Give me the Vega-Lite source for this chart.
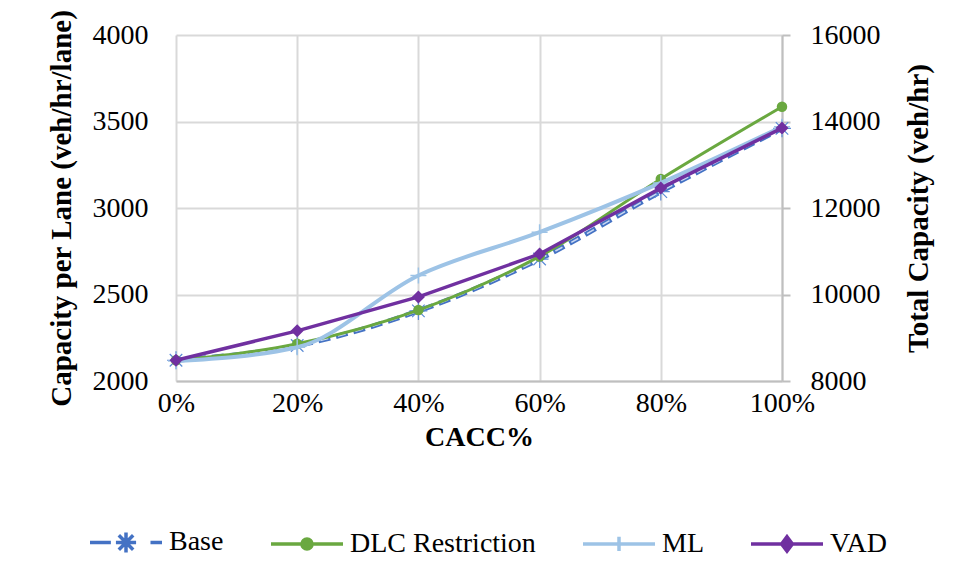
{
  "$schema": "https://vega.github.io/schema/vega-lite/v6.json",
  "autosize": {"type": "none"},
  "width": 606,
  "height": 346,
  "padding": {"left": 176, "top": 35, "right": 187, "bottom": 199},
  "background": "white",
  "config": {
    "view": {"stroke": null},
    "font": "Liberation Serif",
    "axis": {"labelFont": "Liberation Serif", "titleFont": "Liberation Serif", "labelColor": "#000000", "titleColor": "#000000"},
    "legend": {"labelFont": "Liberation Serif", "labelFontSize": 28, "labelColor": "#000000", "labelLimit": 500}
  },
  "data": {
    "values": [
      {"series": "Base", "pct": 0, "value": 2120},
      {"series": "Base", "pct": 20, "value": 2205},
      {"series": "Base", "pct": 40, "value": 2405},
      {"series": "Base", "pct": 60, "value": 2705},
      {"series": "Base", "pct": 80, "value": 3095},
      {"series": "Base", "pct": 100, "value": 3460},
      {"series": "DLC Restriction", "pct": 0, "value": 2120},
      {"series": "DLC Restriction", "pct": 20, "value": 2215},
      {"series": "DLC Restriction", "pct": 40, "value": 2410},
      {"series": "DLC Restriction", "pct": 60, "value": 2720},
      {"series": "DLC Restriction", "pct": 80, "value": 3168},
      {"series": "DLC Restriction", "pct": 100, "value": 3585},
      {"series": "ML", "pct": 0, "value": 2115},
      {"series": "ML", "pct": 20, "value": 2195},
      {"series": "ML", "pct": 40, "value": 2610},
      {"series": "ML", "pct": 60, "value": 2860},
      {"series": "ML", "pct": 80, "value": 3145},
      {"series": "ML", "pct": 100, "value": 3470},
      {"series": "VAD", "pct": 0, "value": 2120},
      {"series": "VAD", "pct": 20, "value": 2290},
      {"series": "VAD", "pct": 40, "value": 2486},
      {"series": "VAD", "pct": 60, "value": 2734},
      {"series": "VAD", "pct": 80, "value": 3115},
      {"series": "VAD", "pct": 100, "value": 3462}
    ]
  },
  "layer": [
    {
      "encoding": {
        "x": {
          "field": "pct", "type": "quantitative",
          "scale": {"domain": [0, 100], "nice": false, "zero": false},
          "axis": {
            "title": "CACC%", "values": [0, 20, 40, 60, 80, 100], "labelExpr": "datum.value + '%'",
            "labelFlush": false, "labelOverlap": false,
            "grid": true, "gridColor": "#d9d9d9", "gridWidth": 2,
            "domainColor": "#bfbfbf", "domainWidth": 2, "ticks": false,
            "labelFontSize": 28, "labelPadding": 8,
            "titleFontSize": 28, "titleFontWeight": "bold", "titlePadding": 6
          }
        },
        "y": {
          "field": "value", "type": "quantitative",
          "scale": {"domain": [2000, 4000], "nice": false, "zero": false},
          "axis": {
            "title": "Capacity per Lane (veh/hr/lane)", "values": [2000, 2500, 3000, 3500, 4000], "format": "d",
            "grid": true, "gridColor": "#d9d9d9", "gridWidth": 2,
            "domain": false, "ticks": false,
            "labelFontSize": 28, "labelPadding": 28,
            "titleFontSize": 29, "titleFontWeight": "bold", "titlePadding": 16
          }
        }
      },
      "layer": [
        {
          "transform": [{"filter": "datum.series == 'Base'"}],
          "mark": {"type": "line", "color": "#4472C4", "strokeWidth": 5, "strokeDash": [12, 6], "interpolate": "monotone"}
        },
        {
          "transform": [{"filter": "datum.series == 'Base'"}],
          "mark": {"type": "line", "color": "#C9D8F2", "strokeWidth": 1.6, "strokeDash": [8, 10], "strokeDashOffset": -2, "interpolate": "monotone"}
        },
        {
          "transform": [{"filter": "datum.series == 'Base'"}],
          "mark": {"type": "point", "shape": "M-1,0H1M0,-1V1M-0.7,-0.7L0.7,0.7M-0.7,0.7L0.7,-0.7", "size": 320, "filled": false, "stroke": "#5B8BD6", "strokeWidth": 1.2, "opacity": 1}
        },
        {
          "transform": [{"filter": "datum.series == 'DLC Restriction'"}],
          "mark": {"type": "line", "color": "#6AA840", "strokeWidth": 3, "interpolate": "monotone"}
        },
        {
          "transform": [{"filter": "datum.series == 'DLC Restriction'"}],
          "mark": {"type": "point", "shape": "circle", "size": 110, "filled": true, "color": "#6AA840", "opacity": 1}
        },
        {
          "transform": [{"filter": "datum.series == 'ML'"}],
          "mark": {"type": "line", "color": "#9DC3E6", "strokeWidth": 4, "interpolate": "monotone"}
        },
        {
          "transform": [{"filter": "datum.series == 'ML'"}],
          "mark": {"type": "point", "shape": "M-1,0H1M0,-1V1", "size": 256, "filled": false, "stroke": "#9DC3E6", "strokeWidth": 1.5, "opacity": 1}
        },
        {
          "transform": [{"filter": "datum.series == 'VAD'"}],
          "mark": {"type": "line", "color": "#7030A0", "strokeWidth": 3.5}
        },
        {
          "transform": [{"filter": "datum.series == 'VAD'"}],
          "mark": {"type": "point", "shape": "diamond", "size": 170, "filled": true, "color": "#7030A0", "opacity": 1}
        },
        {
          "mark": {"type": "point", "filled": true, "opacity": 0, "strokeWidth": 3},
          "encoding": {
            "stroke": {
              "field": "series", "type": "nominal",
              "scale": {"domain": ["Base", "DLC Restriction", "ML", "VAD"], "range": ["#4472C4", "#6AA840", "#9DC3E6", "#7030A0"]},
              "legend": {"title": null, "orient": "none", "legendX": -88, "legendY": 469, "direction": "horizontal", "columns": 4, "symbolSize": 5184, "symbolStrokeWidth": 3.5, "symbolOpacity": 1, "labelOffset": 5, "columnPadding": 40, "padding": 0, "labelLimit": 500}
            },
            "fill": {
              "field": "series", "type": "nominal",
              "scale": {"domain": ["Base", "DLC Restriction", "ML", "VAD"], "range": ["transparent", "#6AA840", "#9DC3E6", "#7030A0"]},
              "legend": {"title": null, "orient": "none", "legendX": -88, "legendY": 469, "direction": "horizontal", "columns": 4, "symbolSize": 5184, "symbolStrokeWidth": 3.5, "symbolOpacity": 1, "labelOffset": 5, "columnPadding": 40, "padding": 0, "labelLimit": 500}
            },
            "shape": {
              "field": "series", "type": "nominal",
              "scale": {"domain": ["Base", "DLC Restriction", "ML", "VAD"], "range": [
                "M-1,0H-0.42M-0.2,0H0.2M0.68,0H1M-0.28,0H0.28M0,-0.28V0.28M-0.2,-0.2L0.2,0.2M-0.2,0.2L0.2,-0.2",
                "M-1,0H1M-0.14,0A0.14,0.14 0 1,0 0.14,0A0.14,0.14 0 1,0 -0.14,0Z",
                "M-1,0H1M0,-0.2V0.2",
                "M-1,0H1M0,-0.2L0.15,0L0,0.2L-0.15,0Z"
              ]},
              "legend": {"title": null, "orient": "none", "legendX": -88, "legendY": 469, "direction": "horizontal", "columns": 4, "symbolSize": 5184, "symbolStrokeWidth": 3.5, "symbolOpacity": 1, "labelOffset": 5, "columnPadding": 40, "padding": 0, "labelLimit": 500}
            }
          }
        }
      ]
    },
    {
      "mark": {"type": "rule", "opacity": 0},
      "encoding": {
        "y": {
          "datum": 8000, "type": "quantitative",
          "scale": {"domain": [8000, 16000], "nice": false, "zero": false},
          "axis": {
            "orient": "right", "title": "Total Capacity (veh/hr)", "values": [8000, 10000, 12000, 14000, 16000], "format": "d",
            "grid": false, "domainColor": "#bfbfbf", "domainWidth": 2,
            "ticks": true, "tickSize": 8, "tickColor": "#bfbfbf", "tickWidth": 2,
            "labelFontSize": 28, "labelPadding": 20,
            "titleFontSize": 29, "titleFontWeight": "bold", "titleAngle": 270, "titleBaseline": "top", "titlePadding": 24
          }
        }
      }
    }
  ],
  "resolve": {"scale": {"y": "independent"}}
}
